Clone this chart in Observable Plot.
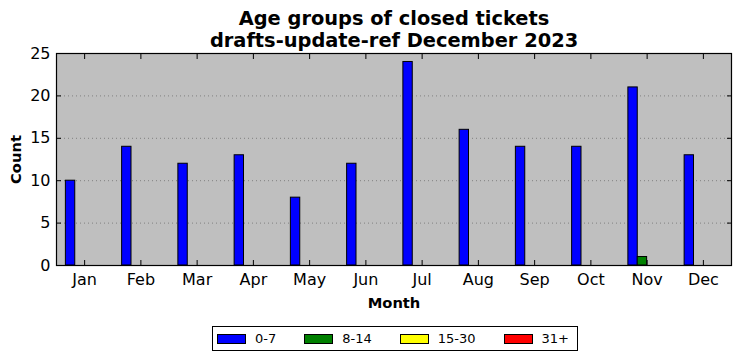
<!DOCTYPE html>
<html>
<head>
<meta charset="utf-8">
<script src="https://cdn.jsdelivr.net/npm/d3@7"></script>
<script src="https://cdn.jsdelivr.net/npm/@observablehq/plot@0.6"></script>
<style>
  body { margin: 0; background: #fff; font-family: "DejaVu Sans", sans-serif; }
  #wrap { position: relative; width: 742px; height: 361px; }
  #legend { position: absolute; left: 212px; top: 326px; width: 364px; height: 23px;
    border: 1px solid #000; display: flex; align-items: center; font-size: 13px; box-sizing: content-box; white-space: nowrap; }
  .item { display: flex; align-items: center; flex: none; white-space: nowrap; }
  .sw { width: 27px; height: 8px; border: 1px solid #000; margin-right: 9px; flex: none; }
</style>
</head>
<body>
<div id="wrap"><div id="chart"></div><div id="legend"></div></div>
<script>
const months = ["Jan","Feb","Mar","Apr","May","Jun","Jul","Aug","Sep","Oct","Nov","Dec"];
const series = ["0-7","8-14","15-30","31+"];
const colors = ["#0000ff","#008000","#ffff00","#ff0000"];
const v0_7   = [10,14,12,13,8,12,24,16,14,14,21,13];
const v8_14  = [0,0,0,0,0,0,0,0,0,0,1,0];
const v15_30 = [0,0,0,0,0,0,0,0,0,0,0,0];
const v31    = [0,0,0,0,0,0,0,0,0,0,0,0];
const yTicks = [0,5,10,15,20,25];
const gridTicks = [5,10,15,20];
const titleLines = ["Age groups of closed tickets","drafts-update-ref December 2023"];

const values = [v0_7, v8_14, v15_30, v31];
const barW = 1/6;
const data = [];
series.forEach((s, si) => values[si].forEach((v, mi) => {
  data.push({month: mi, series: s, si, value: v});
}));

const font = "DejaVu Sans";
const chart = Plot.plot({
  width: 742, height: 320,
  marginTop: 53, marginBottom: 55, marginLeft: 56, marginRight: 11,
  style: {fontFamily: font, background: "#fff", overflow: "visible"},
  x: {type: "linear", domain: [-0.5, 11.5], label: null},
  y: {domain: [0, 25], label: null},
  color: {domain: series, range: colors},
  marks: [
    Plot.frame({fill: "#bfbfbf", stroke: null}),
    Plot.ruleY(gridTicks, {stroke: "#808080", strokeDasharray: "1,3", strokeWidth: 1}),
    Plot.rectY(data, {
      x1: d => d.month + (d.si - 2) * barW,
      x2: d => d.month + (d.si - 1) * barW,
      y1: 0, y2: "value",
      fill: "series", stroke: "#000", strokeWidth: 1
    }),
    Plot.frame({stroke: "#000", strokeWidth: 1.2}),
    Plot.axisX({anchor: "bottom", ticks: d3.range(12), tickSize: -5, tickPadding: 13,
      tickFormat: i => months[i], fontSize: 16, stroke: "#000"}),
    Plot.axisX({anchor: "top", ticks: d3.range(12), tickSize: -5, tickFormat: () => "", stroke: "#000"}),
    Plot.axisY({anchor: "left", ticks: yTicks, tickSize: -5, tickPadding: 11, fontSize: 16, stroke: "#000"}),
    Plot.axisY({anchor: "right", ticks: yTicks, tickSize: -5, tickFormat: () => "", stroke: "#000"}),
    Plot.text([titleLines[0]], {frameAnchor: "top", lineAnchor: "middle", dy: -34.5, fontSize: 19.4, fontWeight: "bold", fill: "#000"}),
    Plot.text([titleLines[1]], {frameAnchor: "top", lineAnchor: "middle", dy: -12.5, fontSize: 19.4, fontWeight: "bold", fill: "#000"}),
    Plot.text(["Month"], {frameAnchor: "bottom", lineAnchor: "middle", dy: 38, fontSize: 14.7, fontWeight: "bold", fill: "#000"}),
    Plot.text(["Count"], {frameAnchor: "left", textAnchor: "middle", lineAnchor: "middle", dx: -40, rotate: -90, fontSize: 14.7, fontWeight: "bold", fill: "#000"})
  ]
});
document.getElementById("chart").appendChild(chart);

const legend = document.getElementById("legend");
series.forEach((s, i) => {
  const it = document.createElement("div");
  it.className = "item";
  it.style.marginLeft = (i === 0 ? 4 : 28) + "px";
  const sw = document.createElement("div");
  sw.className = "sw";
  sw.style.background = colors[i];
  const t = document.createElement("span");
  t.textContent = s;
  it.appendChild(sw); it.appendChild(t);
  legend.appendChild(it);
});
</script>
</body>
</html>
